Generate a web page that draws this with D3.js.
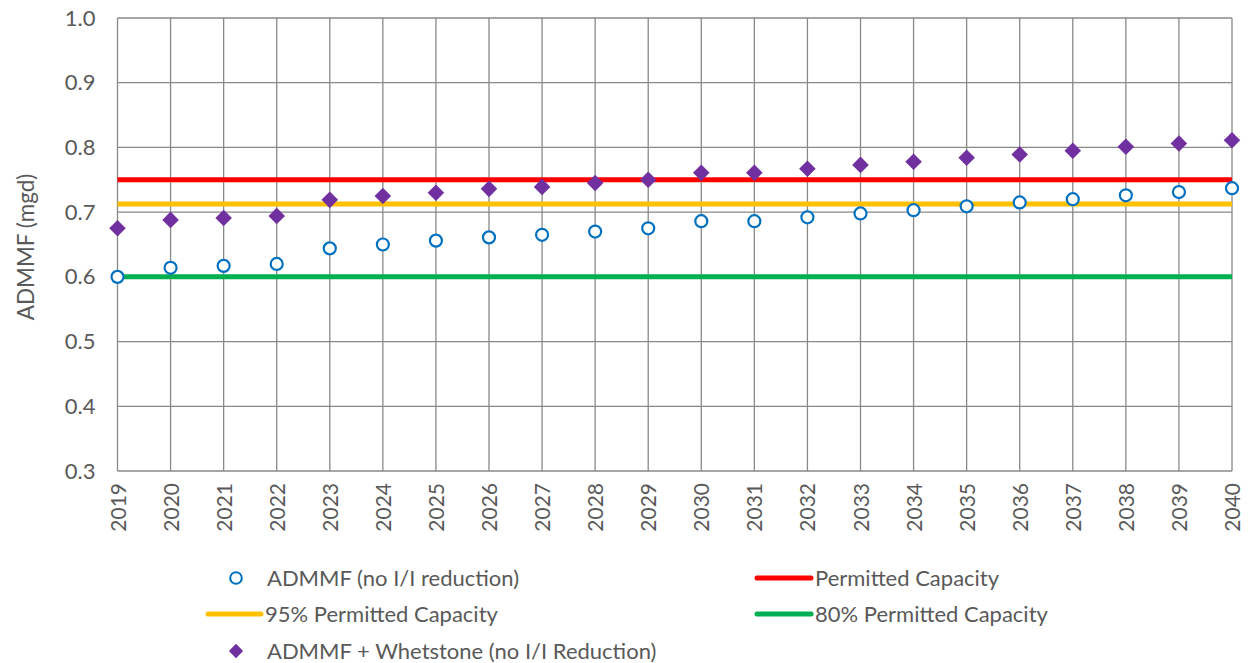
<!DOCTYPE html>
<html>
<head>
<meta charset="utf-8">
<script src="https://cdn.jsdelivr.net/npm/d3@7"></script>
<style>
html,body{margin:0;padding:0;background:#fff;}
svg{display:block;}
text{font-family:Lato,"Open Sans",sans-serif;fill:#595959;}
</style>
</head>
<body>
<svg id="chart" width="1250" height="663"></svg>
<script>
const years = [2019,2020,2021,2022,2023,2024,2025,2026,2027,2028,2029,2030,2031,2032,2033,2034,2035,2036,2037,2038,2039,2040];
const admmf = [0.600,0.614,0.617,0.620,0.644,0.650,0.656,0.661,0.665,0.670,0.675,0.686,0.686,0.692,0.698,0.703,0.709,0.715,0.720,0.726,0.731,0.737];
const admmfWhetstone = [0.675,0.688,0.691,0.694,0.719,0.725,0.730,0.736,0.739,0.745,0.750,0.761,0.761,0.767,0.773,0.778,0.784,0.789,0.795,0.801,0.806,0.811];
const permitted = 0.75;
const permitted95 = 0.7125;
const permitted80 = 0.60;
const yTicks = [0.3,0.4,0.5,0.6,0.7,0.8,0.9,1.0];
const yLabel = "ADMMF (mgd)";
const legendItems = [
  {name:"ADMMF (no I/I reduction)", type:"circle"},
  {name:"Permitted Capacity", type:"line", color:"#FF0000"},
  {name:"95% Permitted Capacity", type:"line", color:"#FFC000"},
  {name:"80% Permitted Capacity", type:"line", color:"#00B050"},
  {name:"ADMMF + Whetstone (no I/I Reduction)", type:"diamond"}
];

const svg = d3.select("#chart");
const x = d3.scaleLinear().domain([2019,2040]).range([117.5,1232]);
const y = d3.scaleLinear().domain([0.3,1.0]).range([471,18]);
const grid = "#898989";

// gridlines
svg.append("g").selectAll("line").data(yTicks).join("line")
  .attr("x1",x(2019)).attr("x2",x(2040))
  .attr("y1",d=>y(d)).attr("y2",d=>y(d))
  .attr("stroke",grid).attr("stroke-width",1.3);
svg.append("g").selectAll("line").data(years).join("line")
  .attr("x1",d=>x(d)).attr("x2",d=>x(d))
  .attr("y1",y(1.0)).attr("y2",y(0.3))
  .attr("stroke",grid).attr("stroke-width",1.3);

// y axis labels
const yAxis = d3.axisLeft(y).tickValues(yTicks).tickFormat(d3.format(".1f")).tickSize(0).tickPadding(22);
const ya = svg.append("g").attr("transform",`translate(${x(2019)},0)`).call(yAxis);
ya.select(".domain").remove();
ya.selectAll("text").style("font-size","22px").style("font-family","Lato").attr("fill","#595959");

// x axis labels
const xAxis = d3.axisBottom(x).tickValues(years).tickFormat(d3.format("d")).tickSize(0);
const xa = svg.append("g").attr("transform",`translate(0,${y(0.3)})`).call(xAxis);
xa.select(".domain").remove();
xa.selectAll("text")
  .attr("transform","rotate(-90)")
  .attr("x",-12).attr("y",0).attr("dy","0.36em")
  .attr("text-anchor","end")
  .style("font-size","21px").style("font-family","Lato").attr("fill","#595959");

// y title
svg.append("text")
  .attr("transform",`translate(34,247) rotate(-90)`)
  .attr("text-anchor","middle")
  .style("font-size","22.5px")
  .text(yLabel);

// capacity lines
const caps = [[permitted,"#FF0000"],[permitted95,"#FFC000"],[permitted80,"#00B050"]];
svg.append("g").selectAll("line").data(caps).join("line")
  .attr("x1",x(2019)).attr("x2",x(2040))
  .attr("y1",d=>y(d[0])).attr("y2",d=>y(d[0]))
  .attr("stroke",d=>d[1]).attr("stroke-width",5);

// diamonds
const diamond = d3.symbol().type(d3.symbolDiamond2).size(175);
svg.append("g").selectAll("path").data(years).join("path")
  .attr("d",diamond)
  .attr("transform",(d,i)=>`translate(${x(d)},${y(admmfWhetstone[i])})`)
  .attr("fill","#7030A0");

// circles
svg.append("g").selectAll("circle").data(years).join("circle")
  .attr("cx",d=>x(d)).attr("cy",(d,i)=>y(admmf[i]))
  .attr("r",6).attr("fill","#fff").attr("stroke","#0070C0").attr("stroke-width",2.2);

// legend
const legendPos = [
  {mx:236, tx:267, ty:578},
  {mx:757, tx:815, ty:578},
  {mx:208, tx:265, ty:614},
  {mx:757, tx:815, ty:614},
  {mx:236, tx:267, ty:651}
];
const lg = svg.append("g");
legendItems.forEach((it,i)=>{
  const p = legendPos[i];
  if(it.type==="circle"){
    lg.append("circle").attr("cx",p.mx).attr("cy",p.ty).attr("r",5.8)
      .attr("fill","#fff").attr("stroke","#0070C0").attr("stroke-width",2);
  } else if(it.type==="diamond"){
    lg.append("path").attr("d",d3.symbol().type(d3.symbolDiamond2).size(130))
      .attr("transform",`translate(${p.mx},${p.ty})`).attr("fill","#7030A0");
  } else {
    lg.append("line").attr("x1",p.mx).attr("x2",p.tx-4).attr("y1",p.ty).attr("y2",p.ty)
      .attr("stroke",it.color).attr("stroke-width",5).attr("stroke-linecap","round");
  }
  lg.append("text").attr("x",p.tx).attr("y",p.ty).attr("dy","0.35em")
    .style("font-size","22px").text(it.name);
});
</script>
</body>
</html>
